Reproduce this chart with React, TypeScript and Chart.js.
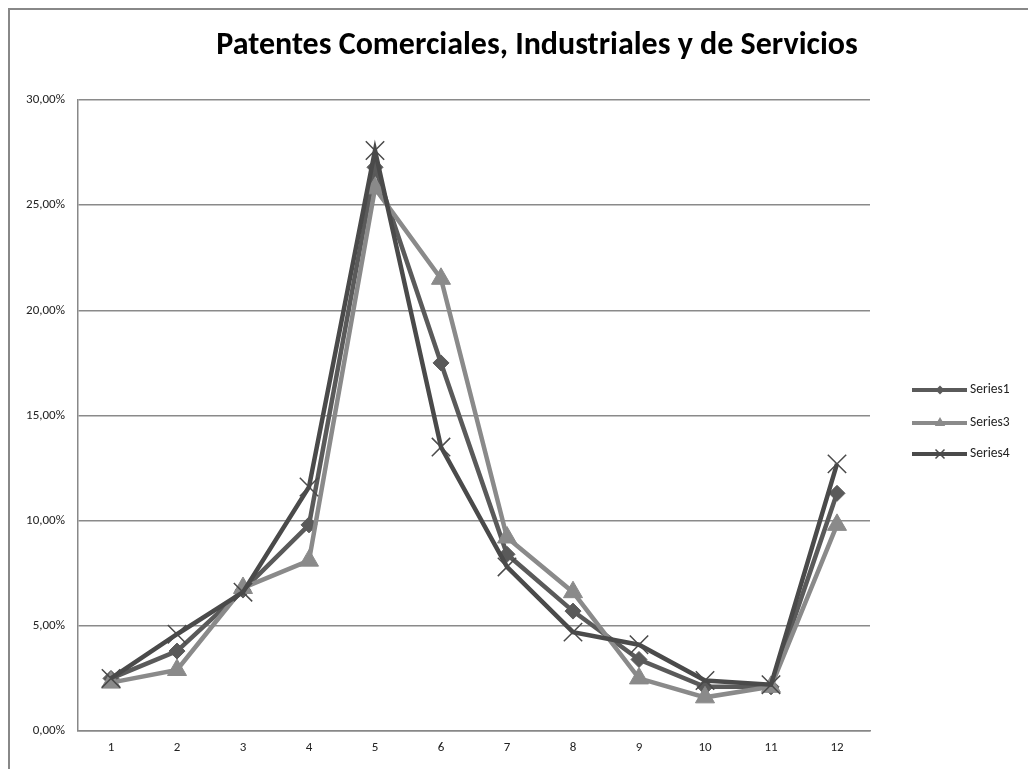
import React, { useEffect, useRef } from "react";
import { Chart, registerables } from "chart.js";

Chart.register(...registerables);

const categories = ["1", "2", "3", "4", "5", "6", "7", "8", "9", "10", "11", "12"];
const series1 = [0.025, 0.038, 0.067, 0.098, 0.268, 0.175, 0.084, 0.057, 0.034, 0.021, 0.021, 0.113];
const series3 = [0.023, 0.029, 0.068, 0.081, 0.258, 0.215, 0.092, 0.066, 0.025, 0.016, 0.021, 0.098];
const series4 = [0.025, 0.046, 0.066, 0.116, 0.276, 0.135, 0.078, 0.047, 0.041, 0.024, 0.022, 0.127];
const seriesNames = ["Series1", "Series3", "Series4"];
const titleText = "Patentes Comerciales, Industriales y de Servicios";

const FONT = "Carlito, Lato, 'Open Sans', sans-serif";

export default function App() {
  const ref = useRef<HTMLCanvasElement | null>(null);

  useEffect(() => {
    if (!ref.current) return;
    const customPlugin = {
      id: "customDecor",
      afterDraw(chart: any) {
        const ctx = chart.ctx;
        ctx.save();
        // title
        ctx.fillStyle = "#000";
        ctx.font = `bold 32px ${FONT}`;
        ctx.textAlign = "center";
        ctx.textBaseline = "middle";
        ctx.fillText(titleText, 527, 36);
        // legend
        const ys = [380, 413, 444];
        chart.data.datasets.forEach((ds: any, i: number) => {
          const y = ys[i];
          ctx.strokeStyle = ds.borderColor;
          ctx.lineWidth = 4;
          ctx.beginPath();
          ctx.moveTo(902, y);
          ctx.lineTo(957, y);
          ctx.stroke();
          ctx.fillStyle = ds.pointBackgroundColor;
          ctx.strokeStyle = ds.pointBorderColor;
          ctx.lineWidth = ds.pointBorderWidth;
          ctx.beginPath();
          const cx = 930;
          if (ds.pointStyle === "rectRot") {
            const r = 4.5;
            ctx.moveTo(cx - r, y);
            ctx.lineTo(cx, y - r);
            ctx.lineTo(cx + r, y);
            ctx.lineTo(cx, y + r);
            ctx.closePath();
            ctx.fill();
          } else if (ds.pointStyle === "triangle") {
            const r = 6;
            ctx.moveTo(cx, y - r);
            ctx.lineTo(cx + r * 0.866, y + r * 0.5);
            ctx.lineTo(cx - r * 0.866, y + r * 0.5);
            ctx.closePath();
            ctx.fill();
          } else {
            const r = 4.5;
            ctx.moveTo(cx - r, y - r);
            ctx.lineTo(cx + r, y + r);
            ctx.moveTo(cx + r, y - r);
            ctx.lineTo(cx - r, y + r);
            ctx.stroke();
          }
          ctx.fillStyle = "#222";
          ctx.font = `13.5px ${FONT}`;
          ctx.textAlign = "left";
          ctx.textBaseline = "middle";
          ctx.fillText(seriesNames[i], 960, y);
        });
        ctx.restore();
      },
    };

    const chart = new Chart(ref.current, {
      type: "line",
      data: {
        labels: categories,
        datasets: [
          {
            label: seriesNames[0],
            data: series1,
            borderColor: "#5a5a5a",
            borderWidth: 4.5,
            pointStyle: "rectRot",
            pointRadius: 8,
            pointBackgroundColor: "#5a5a5a",
            pointBorderColor: "#5a5a5a",
            pointBorderWidth: 1,
            order: 3,
            tension: 0,
          },
          {
            label: seriesNames[1],
            data: series3,
            borderColor: "#8a8a8a",
            borderWidth: 4.5,
            pointStyle: "triangle",
            pointRadius: 11,
            pointBackgroundColor: "#8a8a8a",
            pointBorderColor: "#8a8a8a",
            pointBorderWidth: 1,
            order: 2,
            tension: 0,
          },
          {
            label: seriesNames[2],
            data: series4,
            borderColor: "#4a4a4a",
            borderWidth: 4.5,
            pointStyle: "crossRot",
            pointRadius: 13,
            pointBackgroundColor: "#4a4a4a",
            pointBorderColor: "#4a4a4a",
            pointBorderWidth: 1.5,
            order: 1,
            tension: 0,
          },
        ],
      },
      options: {
        animation: false,
        responsive: false,
        maintainAspectRatio: false,
        layout: { padding: { top: 90, right: 158, bottom: 0, left: 0 } },
        plugins: {
          legend: { display: false },
          title: { display: false },
          tooltip: { enabled: false },
        },
        scales: {
          x: {
            offset: true,
            grid: { display: false, drawTicks: false },
            border: { display: true, color: "#888", width: 1.5 },
            ticks: { color: "#222", font: { size: 13, family: FONT }, padding: 9 },
            afterFit(scale: any) {
              scale.height = 38;
            },
          },
          y: {
            min: 0,
            max: 0.3,
            grid: { color: "#8a8a8a", lineWidth: 1.5, drawTicks: false },
            border: { display: true, color: "#888", width: 1.5 },
            ticks: {
              stepSize: 0.05,
              color: "#222",
              font: { size: 13, family: FONT },
              padding: 13,
              callback: (v: any) => (Number(v) * 100).toFixed(2).replace(".", ",") + "%",
            },
            afterFit(scale: any) {
              scale.width = 68;
            },
          },
        },
      },
      plugins: [customPlugin],
    });
    return () => chart.destroy();
  }, []);

  return (
    <div
      style={{
        position: "fixed",
        left: 8,
        top: 8,
        width: 1030,
        height: 770,
        borderTop: "2px solid #888",
        borderLeft: "2px solid #888",
        background: "#fff",
        overflow: "hidden",
      }}
    >
      <canvas ref={ref} width={1018} height={759} style={{ display: "block" }} />
    </div>
  );
}
